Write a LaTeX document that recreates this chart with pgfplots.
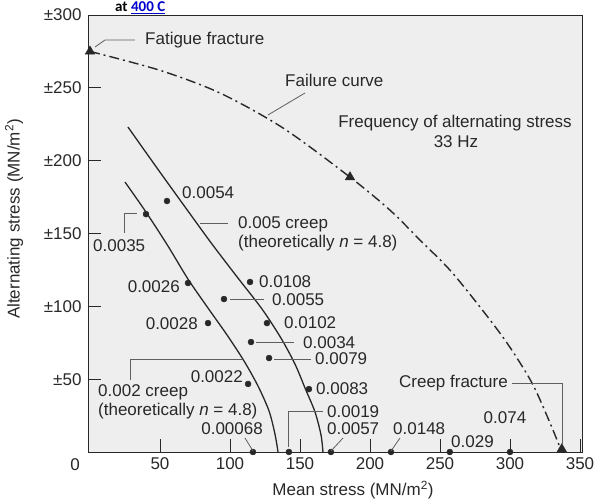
\documentclass[border=0pt]{standalone}
\usepackage{pgfplots}
\pgfplotsset{compat=1.18}
\usepackage{fontspec}
\setmainfont{Liberation Sans}
\newfontfamily\calibri{Carlito}
\definecolor{bg}{RGB}{238,238,238}
\definecolor{ink}{RGB}{40,40,40}
\definecolor{lead}{RGB}{95,95,95}
\definecolor{linkblue}{RGB}{0,0,204}
\begin{document}
\begin{tikzpicture}[font=\fontsize{17}{20}\selectfont]
\begin{axis}[
  scale only axis, width=494pt, height=437pt,
  xmin=-1.43, xmax=351.43, ymin=0, ymax=300,
  axis background/.style={fill=bg},
  axis line style={ink, line width=0.9pt},
  xtick={50,100,...,350}, ytick={50,100,...,300},
  xtick pos=left, ytick pos=left,
  tick align=inside,
  major tick length=13pt,
  tick style={ink, line width=0.8pt},
  ticklabel style={font=\fontsize{17}{20}\selectfont, text=ink},
  xticklabel={\pgfmathprintnumber[assume math mode=true]{\tick}},
  yticklabel={±\pgfmathprintnumber[assume math mode=true]{\tick}},
  xticklabel style={yshift=-2pt},
  yticklabel style={xshift=-3pt},
  clip=false,
]
% 0.002 creep curve
\addplot[ink, line width=1.3pt, smooth] coordinates {(25.0,185.3) (40.0,164.7) (55.7,141.4) (70.0,118.7) (84.3,98.8) (97.9,80.3) (110.0,62.5) (120.0,45.3) (127.9,28.1) (132.1,12.4) (134.3,0)};
% 0.005 creep curve
\addplot[ink, line width=1.3pt, smooth] coordinates {(27.1,223.1) (47.9,194.9) (67.9,168.2) (87.1,142.8) (105.7,119.4) (122.9,98.1) (136.4,78.2) (146.4,60.4) (153.6,43.9) (160.7,27.5) (165.0,11.7) (166.4,0)};
% failure curve
\addplot[ink, line width=1.4pt, smooth, dash pattern=on 10pt off 4pt on 2pt off 4pt] coordinates {(0,275) (50,262) (92.9,246.4) (137.9,222.4) (185.7,188.7) (214.3,166) (235.7,145.5) (257,125) (278.6,99.5) (297.9,74.8) (315.7,47.4) (328.6,19.9) (337,0)};
% measured points
\addplot[only marks, mark=*, mark size=3pt, ink] coordinates {(55,172.3) (40,163.3) (70,116) (114.3,116.7) (95.7,105) (84.3,88.5) (126.4,88.5) (115,75.5) (127.9,64.5) (112.9,46.7) (156.4,43.2) (116.4,0) (142.1,0) (172.1,0) (215,0) (257,0) (300,0)};
% fractures
\addplot[only marks, mark=triangle*, mark size=5.5pt, ink] coordinates {(0,275) (185.7,188.7) (337,2)};
\end{axis}
\begin{scope}[x=1pt,y=-1pt,xshift=-88pt,yshift=452pt]
\tikzset{lbl/.style={inner sep=0pt, text=ink}, ld/.style={lead, line width=0.8pt}}
% title fragment
\node[anchor=base west, inner sep=0pt, font=\calibri\bfseries\fontsize{15}{18}\selectfont] at (115,12) {at \textcolor{linkblue}{\underline{400 C}}};
% axis labels
\node[lbl, rotate=90] at (14,219) {Alternating stress (MN/m\textsuperscript{2})};
\node[lbl] at (353,490) {Mean stress (MN/m\textsuperscript{2})};
\node[lbl] at (75,465) {0};
% annotations
\draw[ld] (95,47) -- (105,40) -- (135,40);
\node[lbl, anchor=west] at (145,40) {Fatigue fracture};
\draw[ld] (305,93) -- (268,115);
\node[lbl, anchor=west] at (285,80) {Failure curve};
\node[lbl] at (455,123) {Frequency of alternating stress};
\node[lbl] at (456,142) {33 Hz};
\node[lbl, anchor=west] at (182,193) {0.0054};
\draw[ld] (200,223) -- (228,223);
\node[lbl, anchor=west] at (238,224) {0.005 creep};
\node[lbl, anchor=west] at (238,243) {(theoretically \textit{n} = 4.8)};
\draw[ld] (124,233) -- (124,213) -- (137,213);
\node[lbl, anchor=west] at (93,246) {0.0035};
\node[lbl, anchor=east] at (180,287) {0.0026};
\node[lbl, anchor=west] at (259,282) {0.0108};
\draw[ld] (230,299) -- (264,299);
\node[lbl, anchor=west] at (272,300) {0.0055};
\node[lbl, anchor=east] at (198,324) {0.0028};
\node[lbl, anchor=west] at (284,323) {0.0102};
\draw[ld] (256,342) -- (294,342);
\node[lbl, anchor=west] at (303,343) {0.0034};
\draw[ld] (274,359) -- (311,359);
\node[lbl, anchor=west] at (315,359) {0.0079};
\node[lbl, anchor=east] at (243,377) {0.0022};
\node[lbl, anchor=west] at (316,389) {0.0083};
\draw[ld] (130,380) -- (130,359) -- (243,359);
\node[lbl, anchor=west] at (98,392) {0.002 creep};
\node[lbl, anchor=west] at (98,411) {(theoretically \textit{n} = 4.8)};
\draw[ld] (245,438) -- (253,451);
\node[lbl, anchor=east] at (263,429) {0.00068};
\draw[ld] (288,447) -- (288,411) -- (323,411);
\node[lbl, anchor=west] at (327,412) {0.0019};
\draw[ld] (343,438) -- (331,451);
\node[lbl, anchor=west] at (327,429) {0.0057};
\draw[ld] (391,451) -- (400,438);
\node[lbl, anchor=west] at (393,429) {0.0148};
\node[lbl, anchor=west] at (451,442) {0.029};
\node[lbl] at (505,418) {0.074};
\draw[ld] (512,383) -- (562,383) -- (562,445);
\node[lbl, anchor=east] at (508,383) {Creep fracture};
\pgfresetboundingbox
\path[use as bounding box] (0,0) rectangle (595,502);
\end{scope}
\end{tikzpicture}
\end{document}
